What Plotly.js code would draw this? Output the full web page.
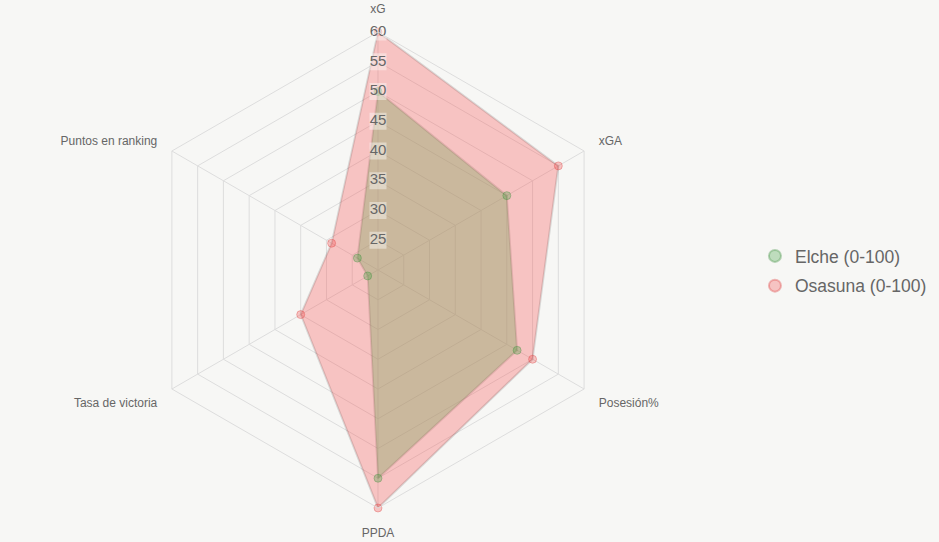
<!DOCTYPE html>
<html>
<head>
<meta charset="utf-8">
<script src="https://cdn.plot.ly/plotly-3.0.1.min.js"></script>
<style>
  html, body { margin: 0; padding: 0; background: #f7f7f5; }
  #chart { width: 939px; height: 542px; }
</style>
</head>
<body>
<div id="chart"></div>
<script>
const categories = ['xG', 'xGA', 'Posesión%', 'PPDA', 'Tasa de victoria', 'Puntos en ranking'];
const elche = [50, 45, 47, 55, 22, 24];
const osasuna = [60, 55, 50, 60, 35, 29];
const seriesNames = ['Elche (0-100)', 'Osasuna (0-100)'];
const radialTicks = [25, 30, 35, 40, 45, 50, 55, 60];
const radialTickLabels = radialTicks.map(String);

function closeLoop(arr) { return arr.concat([arr[0]]); }

const outline = { color: 'rgba(0,0,0,0.12)', width: 2 };

const traces = [
  {
    type: 'scatterpolar', r: closeLoop(elche), theta: closeLoop(categories),
    mode: 'lines', fill: 'toself', fillcolor: 'rgba(87,207,115,0.4)',
    line: outline, showlegend: false, hoverinfo: 'skip'
  },
  {
    type: 'scatterpolar', r: closeLoop(osasuna), theta: closeLoop(categories),
    mode: 'lines', fill: 'toself', fillcolor: 'rgba(250,77,77,0.3)',
    line: outline, showlegend: false, hoverinfo: 'skip'
  },
  {
    type: 'scatterpolar', r: elche, theta: categories, name: seriesNames[0],
    mode: 'markers', legendgroup: 'a',
    marker: { size: 8, color: 'rgba(60,160,60,0.3)', line: { width: 1, color: 'rgba(60,140,60,0.35)' } }
  },
  {
    type: 'scatterpolar', r: osasuna, theta: categories, name: seriesNames[1],
    mode: 'markers', legendgroup: 'b',
    marker: { size: 8, color: 'rgba(245,60,60,0.28)', line: { width: 1, color: 'rgba(220,60,60,0.35)' } }
  },
  {
    type: 'scatterpolar', r: radialTicks, theta: radialTicks.map(() => categories[0]),
    mode: 'markers+text', text: radialTickLabels, textposition: 'middle center',
    textfont: { family: 'Liberation Sans, Arial, sans-serif', size: 15, color: '#666' },
    marker: { symbol: 'square', size: 17, color: 'rgba(250,250,248,0.45)' },
    showlegend: false, hoverinfo: 'skip', cliponaxis: false
  }
];

const grid = '#dddddd';
const layout = {
  width: 939, height: 542,
  margin: { l: 0, r: 0, t: 0, b: 0 },
  paper_bgcolor: '#f7f7f5', plot_bgcolor: '#f7f7f5',
  font: { family: 'Liberation Sans, Arial, sans-serif', color: '#666' },
  showlegend: true,
  legend: {
    x: 0.804, y: 0.5, xanchor: 'left', yanchor: 'middle',
    font: { size: 17.5, color: '#666' }, bgcolor: 'rgba(0,0,0,0)',
    itemsizing: 'constant', tracegroupgap: 4
  },
  polar: {
    domain: { x: [0.1491, 0.6560], y: [0.0627, 0.941] },
    bgcolor: 'rgba(0,0,0,0)',
    gridshape: 'linear',
    radialaxis: {
      range: [20, 60], tickvals: radialTicks, showticklabels: false, ticks: '',
      gridcolor: grid, showline: false, angle: 90
    },
    angularaxis: {
      direction: 'clockwise', rotation: 90, gridcolor: grid, linecolor: grid,
      showline: true, ticks: 'outside', ticklen: 14, tickcolor: 'rgba(0,0,0,0)',
      tickfont: { size: 12, color: '#666' }
    }
  }
};

Plotly.newPlot('chart', traces, layout, { displayModeBar: false, staticPlot: true });
</script>
</body>
</html>
